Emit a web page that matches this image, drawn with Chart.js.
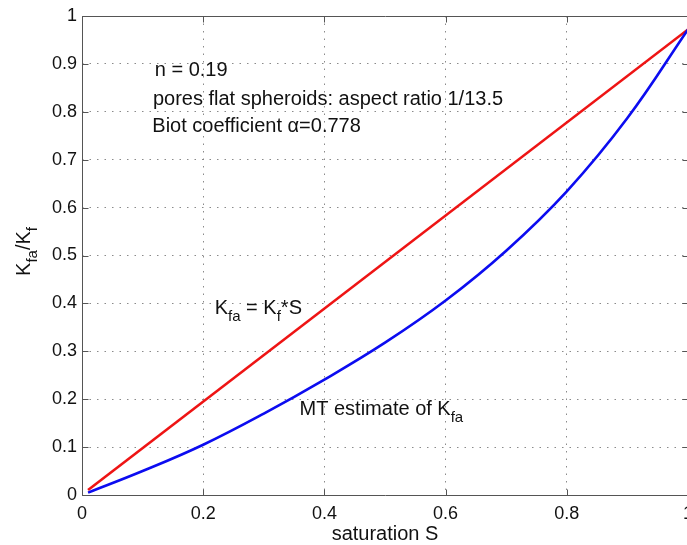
<!DOCTYPE html>
<html>
<head>
<meta charset="utf-8">
<style>
  html, body { margin: 0; padding: 0; background: #fff; overflow: hidden; width: 687px; height: 545px; }
  canvas { display: block; }
</style>
<script src="https://cdn.jsdelivr.net/npm/chart.js@4.4.0/dist/chart.umd.min.js"></script>
</head>
<body>
<canvas id="c" width="690" height="545"></canvas>
<script>
// Saturation S and the Mori-Tanaka estimate of K_fa / K_f
const saturation = [0.01, 0.1, 0.2, 0.3, 0.4, 0.5, 0.6, 0.7, 0.8, 0.9, 1.0];
const mtEstimate = [0.005, 0.05, 0.105, 0.17, 0.241, 0.318, 0.406, 0.51, 0.634, 0.787, 0.972];

// Linear mixing law K_fa = K_f * S
const linearS = [0.01, 1.0];
const linearK = [0.0105, 0.972];

// Axis ticks
const xTicks = [0, 0.2, 0.4, 0.6, 0.8, 1];
const yTicks = [0, 0.1, 0.2, 0.3, 0.4, 0.5, 0.6, 0.7, 0.8, 0.9, 1];

const FONT = '"Liberation Sans", Arial, Helvetica, sans-serif';
const TEXT = '#111';

const toPoints = (xs, ys) => xs.map((x, i) => ({ x, y: ys[i] }));
const fmt = v => String(Math.round(v * 10) / 10);

// Writes text made of normal and subscript runs, left-aligned at (x, y) baseline
function richWidth(ctx, parts, size, subSize) {
  let w = 0;
  for (const p of parts) {
    ctx.font = (p.sub ? subSize : size) + 'px ' + FONT;
    w += ctx.measureText(p.t).width;
  }
  return w;
}
function drawRich(ctx, parts, x, y, size, subSize, subDrop) {
  let cx = x;
  for (const p of parts) {
    ctx.font = (p.sub ? subSize : size) + 'px ' + FONT;
    ctx.fillText(p.t, cx, y + (p.sub ? subDrop : 0));
    cx += ctx.measureText(p.t).width;
  }
}

const notes = [
  { at: [0.12, 0.875], parts: [{ t: 'n = 0.19' }] },
  { at: [0.117, 0.814], parts: [{ t: 'pores flat spheroids: aspect ratio 1/13.5' }] },
  { at: [0.116, 0.758], parts: [{ t: 'Biot coefficient \u03B1=0.778' }] },
  { at: [0.219, 0.378], parts: [{ t: 'K' }, { t: 'fa', sub: true }, { t: ' = K' }, { t: 'f', sub: true }, { t: '*S' }] },
  { at: [0.359, 0.167], parts: [{ t: 'MT estimate of K' }, { t: 'fa', sub: true }] }
];

const framePlugin = {
  id: 'frame',
  afterDraw(chart) {
    const ctx = chart.ctx;
    const a = chart.chartArea;
    const xs = chart.scales.x, ys = chart.scales.y;
    ctx.save();
    // axes box and inward tick marks
    ctx.strokeStyle = '#555';
    ctx.lineWidth = 1;
    ctx.beginPath();
    const L = Math.round(a.left) + 0.5, B = Math.round(a.bottom) + 0.5, T = Math.round(a.top) + 0.5, R = Math.round(a.right) + 0.5;
    ctx.moveTo(L, T); ctx.lineTo(R, T);
    ctx.moveTo(L, T); ctx.lineTo(L, B); ctx.lineTo(R, B);
    ctx.moveTo(R, T); ctx.lineTo(R, B);
    const tl = 6;
    for (const v of xTicks) {
      const px = Math.round(xs.getPixelForValue(v)) + 0.5;
      ctx.moveTo(px, B); ctx.lineTo(px, B - tl);
      ctx.moveTo(px, T); ctx.lineTo(px, T + tl);
    }
    for (const v of yTicks) {
      const py = Math.round(ys.getPixelForValue(v)) + 0.5;
      ctx.moveTo(L, py); ctx.lineTo(L + tl, py);
      ctx.moveTo(R, py); ctx.lineTo(R - tl, py);
    }
    ctx.stroke();

    // annotations
    ctx.fillStyle = TEXT;
    ctx.textBaseline = 'alphabetic';
    ctx.textAlign = 'left';
    for (const n of notes) {
      drawRich(ctx, n.parts, xs.getPixelForValue(n.at[0]), ys.getPixelForValue(n.at[1]), 20, 15, 7);
    }

    // x axis title
    ctx.font = '20px ' + FONT;
    ctx.textAlign = 'center';
    ctx.fillText('saturation S', (a.left + a.right) / 2, 540);

    // y axis title, rotated
    const yt = [{ t: 'K' }, { t: 'fa', sub: true }, { t: '/K' }, { t: 'f', sub: true }];
    const w = richWidth(ctx, yt, 20, 15);
    ctx.translate(30, (a.top + a.bottom) / 2 - 4);
    ctx.rotate(-Math.PI / 2);
    ctx.textAlign = 'left';
    drawRich(ctx, yt, -w / 2, 0, 20, 15, 7);
    ctx.restore();
  }
};

new Chart(document.getElementById('c'), {
  type: 'scatter',
  data: {
    datasets: [
      {
        label: 'MT estimate of K_fa',
        data: toPoints(saturation, mtEstimate),
        showLine: true,
        borderColor: '#0c0cf0',
        borderWidth: 2.6,
        pointRadius: 0,
        tension: 0.4,
        fill: false
      },
      {
        label: 'K_fa = K_f*S',
        data: toPoints(linearS, linearK),
        showLine: true,
        borderColor: '#ee1414',
        borderWidth: 2.6,
        pointRadius: 0,
        fill: false
      }
    ]
  },
  options: {
    responsive: false,
    animation: false,
    devicePixelRatio: 1,
    layout: { padding: { top: 16, right: 2, left: 0, bottom: 0 } },
    plugins: { legend: { display: false }, tooltip: { enabled: false } },
    scales: {
      x: {
        type: 'linear',
        min: 0, max: 1,
        afterBuildTicks: s => { s.ticks = xTicks.map(v => ({ value: v })); },
        afterFit: s => { s.height = 50; s.paddingLeft = 0; s.paddingRight = 0; },
        ticks: { padding: 8, color: TEXT, font: { family: FONT, size: 18 }, callback: fmt, maxRotation: 0, autoSkip: false },
        grid: { color: '#8a8a8a', lineWidth: 1, drawTicks: false },
        border: { display: false, dash: [1.5, 6] }
      },
      y: {
        type: 'linear',
        min: 0, max: 1,
        afterBuildTicks: s => { s.ticks = yTicks.map(v => ({ value: v })); },
        afterFit: s => { s.width = 82; s.paddingTop = 0; s.paddingBottom = 0; },
        ticks: { padding: 5, color: TEXT, font: { family: FONT, size: 18 }, callback: fmt, autoSkip: false },
        grid: { color: '#8a8a8a', lineWidth: 1, drawTicks: false },
        border: { display: false, dash: [1.5, 6] }
      }
    }
  },
  plugins: [framePlugin]
});
</script>
</body>
</html>
